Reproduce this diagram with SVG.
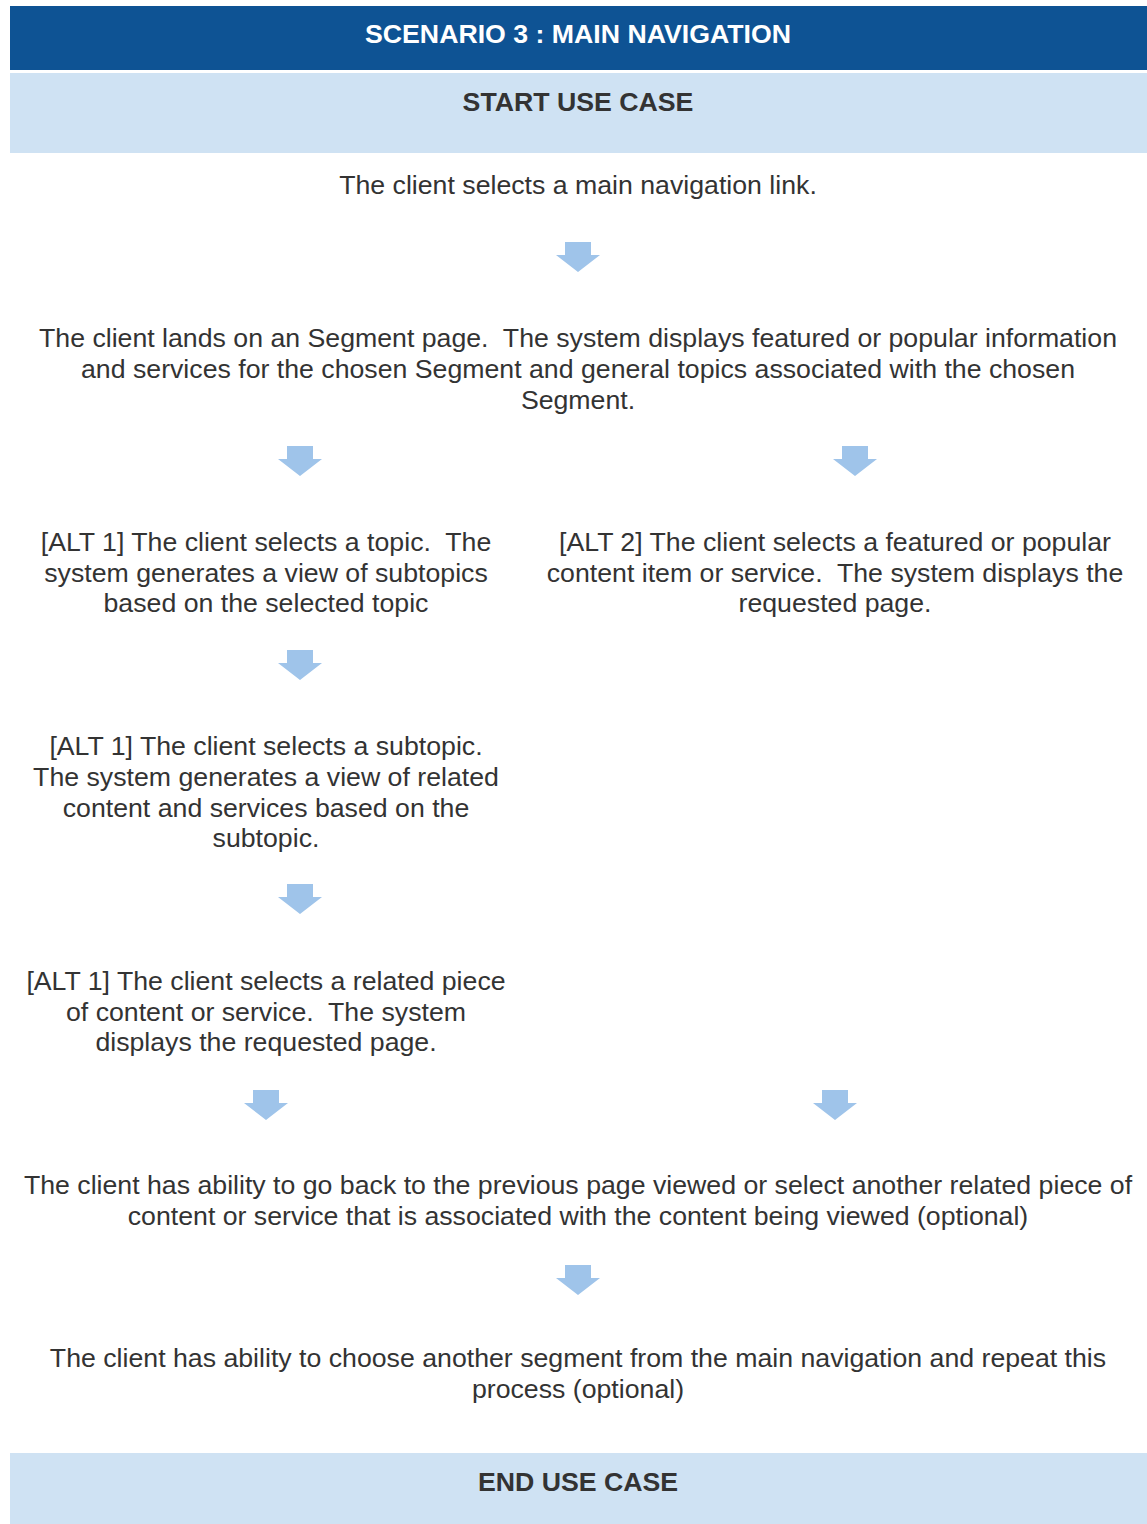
<svg xmlns="http://www.w3.org/2000/svg" width="1147" height="1524" viewBox="0 0 1147 1524">
<style>
.t{font-family:"Liberation Sans",Arial,sans-serif;font-size:26.7px;fill:#333333;text-anchor:middle;white-space:pre}
.h{font-family:"Liberation Sans",Arial,sans-serif;font-size:26.7px;font-weight:bold;text-anchor:middle}
.arr{fill:#9fc4ea}
</style>
<defs>
<path id="arrow" d="M-13,0 H13 V13 H22 L0,30 L-22,13 H-13 Z"/>
</defs>
<rect width="1147" height="1524" fill="#ffffff"/>
<g id="header">
<rect x="10" y="6" width="1137" height="64" fill="#0e5394"/>
<text class="h" x="578" y="43" fill="#ffffff">SCENARIO 3 : MAIN NAVIGATION</text>
</g>
<g id="start">
<rect x="10" y="73" width="1137" height="80" fill="#cfe2f3"/>
<text class="h" x="578" y="111" fill="#333333">START USE CASE</text>
</g>
<g id="step1">
<text class="t" x="578" y="194">The client selects a main navigation link.</text>
</g>
<g id="step2">
<text class="t" x="578" y="347" xml:space="preserve">The client lands on an Segment page.  The system displays featured or popular information</text>
<text class="t" x="578" y="378">and services for the chosen Segment and general topics associated with the chosen</text>
<text class="t" x="578" y="409">Segment.</text>
</g>
<g id="alt1a">
<text class="t" x="266" y="551" xml:space="preserve">[ALT 1] The client selects a topic.  The</text>
<text class="t" x="266" y="582">system generates a view of subtopics</text>
<text class="t" x="266" y="612">based on the selected topic</text>
</g>
<g id="alt2">
<text class="t" x="835" y="551">[ALT 2] The client selects a featured or popular</text>
<text class="t" x="835" y="582" xml:space="preserve">content item or service.  The system displays the</text>
<text class="t" x="835" y="612">requested page.</text>
</g>
<g id="alt1b">
<text class="t" x="266" y="755">[ALT 1] The client selects a subtopic.</text>
<text class="t" x="266" y="786">The system generates a view of related</text>
<text class="t" x="266" y="817">content and services based on the</text>
<text class="t" x="266" y="847">subtopic.</text>
</g>
<g id="alt1c">
<text class="t" x="266" y="990">[ALT 1] The client selects a related piece</text>
<text class="t" x="266" y="1021" xml:space="preserve">of content or service.  The system</text>
<text class="t" x="266" y="1051">displays the requested page.</text>
</g>
<g id="step3">
<text class="t" x="578" y="1194">The client has ability to go back to the previous page viewed or select another related piece of</text>
<text class="t" x="578" y="1225">content or service that is associated with the content being viewed (optional)</text>
</g>
<g id="step4">
<text class="t" x="578" y="1367">The client has ability to choose another segment from the main navigation and repeat this</text>
<text class="t" x="578" y="1398">process (optional)</text>
</g>
<g id="end">
<rect x="10" y="1453" width="1137" height="71" fill="#cfe2f3"/>
<text class="h" x="578" y="1491" fill="#333333">END USE CASE</text>
</g>
<g id="connectors" class="arr">
<use href="#arrow" x="578" y="242"/>
<use href="#arrow" x="300" y="446"/>
<use href="#arrow" x="855" y="446"/>
<use href="#arrow" x="300" y="650"/>
<use href="#arrow" x="300" y="884"/>
<use href="#arrow" x="266" y="1090"/>
<use href="#arrow" x="835" y="1090"/>
<use href="#arrow" x="578" y="1265"/>
</g>
</svg>
